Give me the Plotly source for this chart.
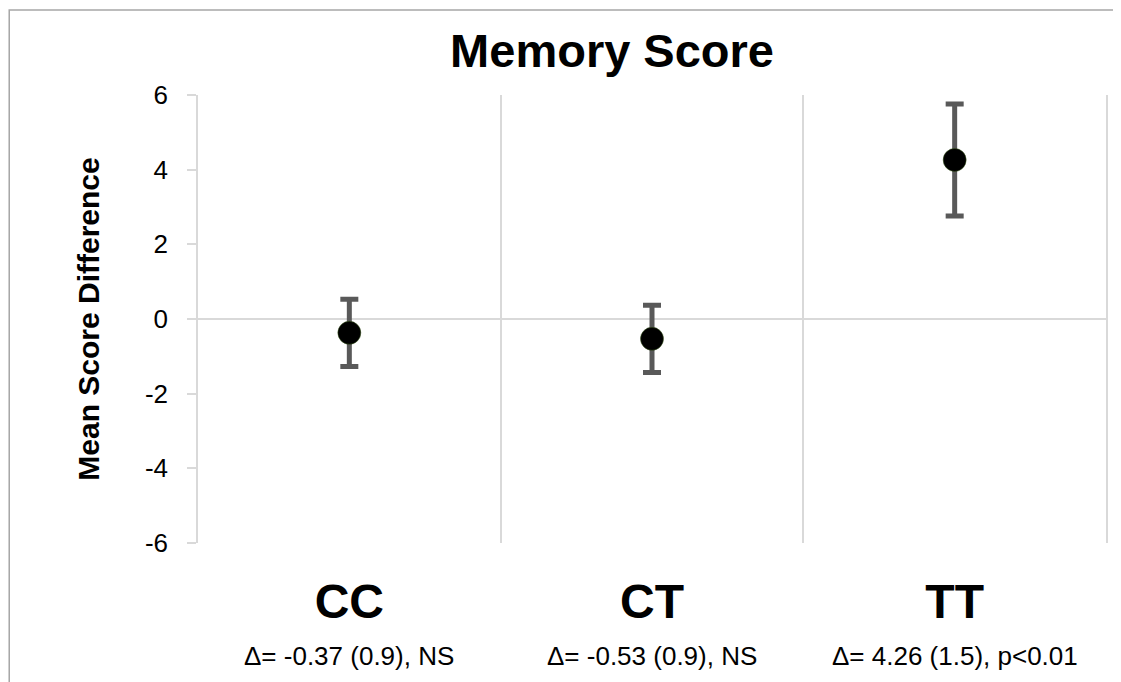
import plotly.graph_objects as go

categories = ["CC", "CT", "TT"]
mean_diff = [-0.37, -0.53, 4.26]
error = [0.9, 0.9, 1.5]
sub_labels = ["Δ= -0.37 (0.9), NS", "Δ= -0.53 (0.9), NS", "Δ= 4.26 (1.5), p<0.01"]
y_ticks = [-6, -4, -2, 0, 2, 4, 6]
y_tick_text = ["-6", "-4", "-2", "0", "2", "4", "6"]

FONT = "Liberation Sans, Arial, sans-serif"
GRID = "#d9d9d9"

W, H = 1113, 674

fig = go.Figure()
fig.add_trace(go.Scatter(
    x=categories, y=mean_diff, mode="markers",
    marker=dict(size=23, color="black", line=dict(width=0.5, color="#3a5a1a")),
    error_y=dict(type="data", array=error, visible=True, color="#595959",
                 thickness=5, width=9),
    showlegend=False, hoverinfo="skip",
))

for cat, lab in zip(categories, sub_labels):
    fig.add_annotation(x=cat, xref="x", y=-0.253, yref="paper", text=lab,
                       showarrow=False, xanchor="center", yanchor="middle",
                       font=dict(family=FONT, size=26, color="black"))

# outer chart border (clipped by the page on the right and bottom)
fig.add_shape(type="rect", xref="paper", yref="paper",
              x0=-0.2079, x1=1.05, y0=-0.5, y1=1.1897,
              line=dict(color="#a6a6a6", width=1.5), fillcolor="rgba(0,0,0,0)",
              layer="below")

fig.update_layout(
    width=W, height=H,
    margin=dict(l=190, r=15, t=87, b=139),
    paper_bgcolor="white", plot_bgcolor="white",
    font=dict(family=FONT, color="black"),
    title=dict(text="<b>Memory Score</b>", x=0.456, xref="paper", xanchor="center",
               y=1 - 43 / H, yref="container", yanchor="middle",
               font=dict(family=FONT, size=47, color="black")),
    xaxis=dict(type="category", categoryorder="array", categoryarray=categories,
               range=[-0.5, 2.5], tickson="boundaries", showgrid=True,
               gridcolor=GRID, gridwidth=1.5, ticks="", showline=False,
               zeroline=False, ticklabelstandoff=26,
               tickfont=dict(family=FONT, size=48, color="black", weight="bold")),
    yaxis=dict(range=[-6, 6], tickvals=y_ticks, ticktext=y_tick_text,
               ticks="outside", ticklen=9,
               tickcolor=GRID, tickwidth=1.5, showline=True, mirror=True,
               linecolor=GRID, linewidth=1.5, showgrid=False,
               zeroline=True, zerolinecolor=GRID, zerolinewidth=1.5,
               ticklabelstandoff=14,
               tickfont=dict(family=FONT, size=26, color="black"),
               title=dict(text="<b>Mean Score Difference</b>", standoff=36,
                          font=dict(family=FONT, size=30, color="black"))),
)

fig.write_html("out.html")
